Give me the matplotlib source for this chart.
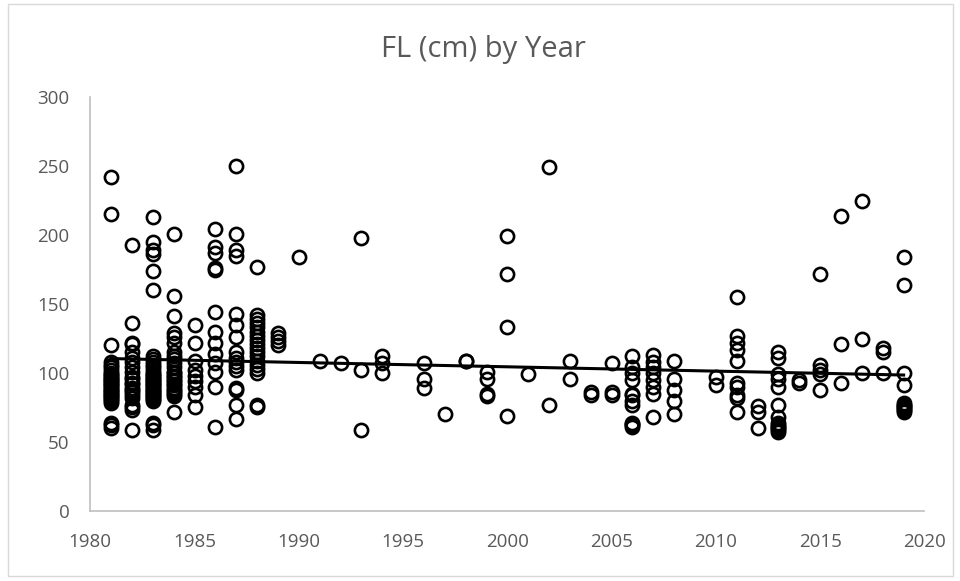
import numpy as np
import matplotlib
matplotlib.use("Agg")
import matplotlib.pyplot as plt
from matplotlib.patches import Rectangle

plt.rcParams['font.family'] = ['Open Sans', 'DejaVu Sans']

# FL (cm) measurements grouped by year, read off the chart
# (dense columns carry extra overlapping points hidden in the stacks)
year_groups = [1981, 1982, 1983, 1984, 1985, 1986, 1987, 1988, 1989, 1990,
               1991, 1992, 1993, 1994, 1996, 1997, 1998, 1999, 2000, 2001,
               2002, 2003, 2004, 2005, 2006, 2007, 2008, 2010, 2011, 2012,
               2013, 2014, 2015, 2016, 2017, 2018, 2019]
fl_groups = [
    [242, 215, 120, 108, 106, 104, 102, 100, 98, 96, 94, 92, 90, 88, 86, 84, 82, 80, 78, 64, 62, 60,
     81, 83, 85, 87, 89, 91, 93, 95, 97, 99],
    [193, 136, 122, 121, 115, 111, 108, 104, 101, 97, 93, 89, 86, 82, 77, 75, 73, 59,
     84, 88, 92, 96],
    [213, 195, 189, 186, 174, 160, 112, 110, 108, 106, 104, 102, 100, 98, 96, 94, 92, 90, 88, 86, 84, 82, 80, 64, 62, 59,
     81, 83, 85, 87, 89, 91, 93, 95, 97, 99],
    [201, 156, 141, 129, 126, 122, 115, 112, 110, 107, 104, 101, 98, 95, 92, 89, 86, 83, 72,
     85, 88, 91, 94, 97, 100],
    [135, 122, 109, 102, 98, 94, 90, 84, 75],
    [204, 191, 187, 176, 175, 144, 130, 122, 114, 107, 101, 90, 61],
    [250, 201, 189, 185, 143, 135, 126, 115, 111, 108, 105, 102, 89, 88, 77, 67],
    [177, 142, 139, 136, 133, 130, 127, 124, 121, 118, 115, 112, 109, 106, 103, 100, 77, 75],
    [129, 126, 123, 120],
    [184],
    [109],
    [107],
    [198, 102, 59],
    [112, 107, 100],
    [107, 96, 89],
    [70],
    [109, 109],
    [101, 96, 85, 83],
    [199, 172, 133, 69],
    [99],
    [249, 77],
    [109, 96],
    [86, 84],
    [107, 86, 84],
    [112, 104, 100, 95, 84, 80, 77, 64, 61, 63, 62, 85],
    [113, 108, 104, 100, 95, 90, 85, 68],
    [109, 96, 88, 80, 70],
    [97, 91],
    [155, 127, 122, 117, 109, 93, 90, 84, 82, 72],
    [76, 72, 60],
    [115, 111, 99, 96, 90, 77, 68, 64, 60, 57, 59, 61, 62],
    [95, 93],
    [172, 106, 102, 99, 88],
    [214, 121, 93],
    [225, 125, 100],
    [118, 115, 100],
    [184, 164, 100, 91, 78, 76, 74, 72, 73, 75, 77],
]

years = np.array([y for y, vals in zip(year_groups, fl_groups) for _ in vals], dtype=float)
fl = np.array([v for vals in fl_groups for v in vals], dtype=float)

fig = plt.figure(figsize=(9.6, 5.81), dpi=100)
ax = fig.add_axes([0.094, 0.1205, 0.869, 0.7125])

ax.plot(years, fl, linestyle='none', marker='o', markersize=9.5,
        markerfacecolor='none', markeredgecolor='black', markeredgewidth=1.9)

# linear trend line over the data range
slope, intercept = np.polyfit(years, fl, 1)
xs = np.array([years.min(), years.max()])
ax.plot(xs, slope * xs + intercept, color='black', linewidth=2.2)

ax.set_xlim(1980, 2020)
ax.set_ylim(0, 300)
ax.set_xticks(np.arange(1980, 2021, 5))
ax.set_yticks(np.arange(0, 301, 50))

for side in ['top', 'right']:
    ax.spines[side].set_visible(False)
for side in ['left', 'bottom']:
    ax.spines[side].set_color('#bfbfbf')
    ax.spines[side].set_linewidth(1.2)
ax.tick_params(length=0, labelsize=13.5, labelcolor='#595959')
ax.tick_params(axis='y', pad=15)
ax.tick_params(axis='x', pad=16)

fig.text(0.504, 0.915, 'FL (cm) by Year', ha='center', va='center',
         fontsize=21, color='#595959')

fig.patches.append(Rectangle((0.008, 0.008), 0.985, 0.985, transform=fig.transFigure,
                             fill=False, edgecolor='#d9d9d9', linewidth=1))

plt.savefig('out.png', dpi=100)
